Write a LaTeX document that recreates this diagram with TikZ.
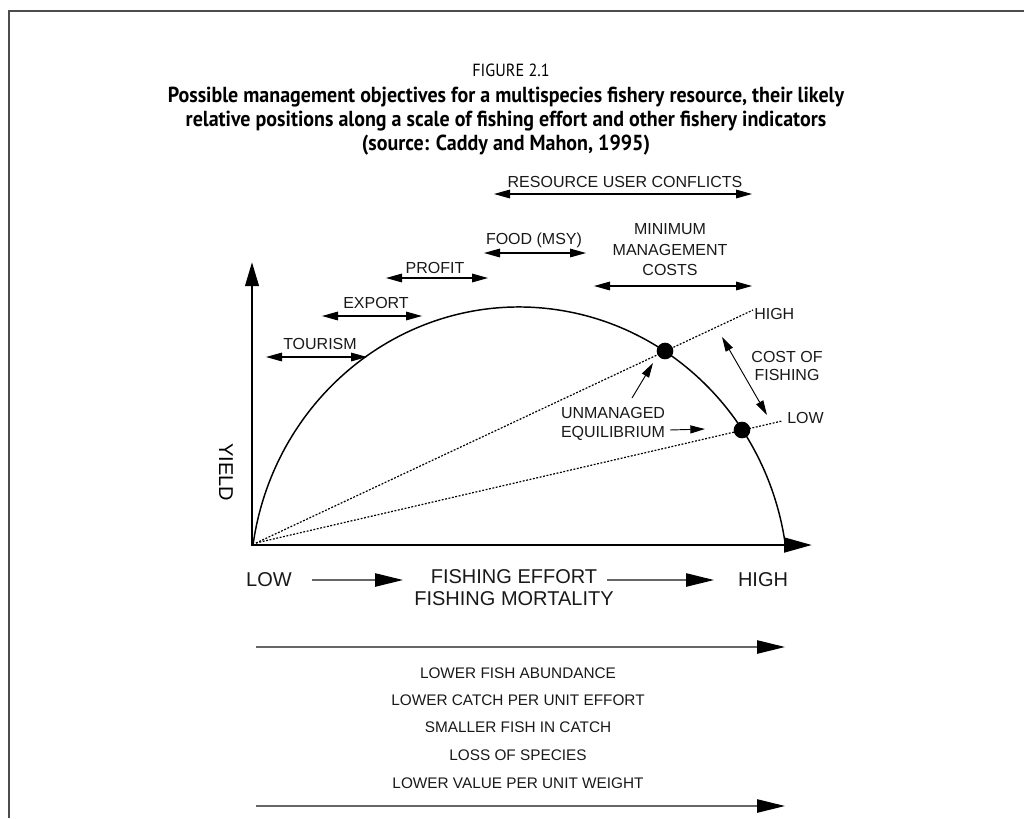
\documentclass[tikz,border=0pt]{standalone}
\usepackage{fontspec}
\setmainfont{Liberation Sans}
\newfontfamily\titlefont[FakeStretch=0.92]{PT Sans}
\usetikzlibrary{arrows.meta}
\tikzset{
  lbl/.style={font=\fontsize{12}{15}\selectfont, inner sep=0pt, align=center, text=black!90},
  biglbl/.style={font=\fontsize{15}{16.5}\selectfont, inner sep=0pt, align=center, text=black!90},
  smalllbl/.style={font=\fontsize{11.5}{13}\selectfont, inner sep=0pt, align=center, text=black!90},
  dblarrow/.style={line width=0.8pt, {Triangle[length=12pt,width=6.5pt]}-{Triangle[length=12pt,width=6.5pt]}},
  thinarrow/.style={line width=0.7pt, -{Triangle[length=11pt,width=6pt]}},
  thindbl/.style={line width=0.7pt, {Triangle[length=11pt,width=6pt]}-{Triangle[length=11pt,width=6pt]}},
  axisline/.style={line width=2.2pt, line join=miter, {Triangle[length=18pt,width=10pt]}-{Triangle[length=21pt,width=11pt]}},
  grayarrow/.style={draw=black!60, line width=1.1pt, -{Triangle[length=21pt,width=10pt,color=black]}},
  curveline/.style={line width=1.1pt},
  dottedline/.style={line width=0.9pt, dash pattern=on 1.4pt off 1.2pt},
  eqdot/.style={circle, fill=black, inner sep=0pt, minimum size=12.5pt},
  frameline/.style={draw=black!70, line width=1.5pt},
}
\begin{document}
\begin{tikzpicture}[x=0.75pt,y=-0.75pt]
\useasboundingbox (0,0) rectangle (1024,818);
% frame
\coordinate (FL) at (9,818);
\coordinate (FC) at (9,11);
\coordinate (FR) at (1024,11);
\draw[frameline] (FL) -- (FC) -- (FR);
% title
\node[font=\titlefont\fontsize{13.2}{17}\selectfont, inner sep=0pt] (fig) at (511,70) {FIGURE 2.1};
\node[font=\titlefont\bfseries\fontsize{16.3}{17.8}\selectfont, inner sep=0pt, align=center] (title) at (506,121)
  {Possible management objectives for a multispecies fishery resource, their likely\\
   relative positions along a scale of fishing effort and other fishery indicators\\
   (source: Caddy and Mahon, 1995)};
% axes
\coordinate (O) at (252,545);
\coordinate (Ytip) at (252,262);
\coordinate (Xtip) at (812,545);
\draw[axisline] (Ytip) -- (O) -- (Xtip);
\node[font=\fontsize{15}{17}\selectfont, inner sep=0pt, rotate=-90] (yield) at (226,472) {YIELD};
% curve
\coordinate (C0) at (253,545);
\draw[curveline] (C0) arc[start angle=188.27, end angle=351.73, x radius=269, y radius=278];
% dotted effort lines
\coordinate (D0) at (256,543);
\coordinate (Hend) at (753,310);
\coordinate (Lend) at (782,421);
\draw[dottedline] (D0) -- (Hend);
\draw[dottedline] (D0) -- (Lend);
\node[lbl, anchor=west] (high) at (754,314) {HIGH};
\node[lbl, anchor=west] (low) at (787,418) {LOW};
% equilibrium dots
\node[eqdot] (eqH) at (665,351) {};
\node[eqdot] (eqL) at (742,430) {};
% cost of fishing
\coordinate (C1) at (722,337);
\coordinate (C2) at (767,415);
\draw[thindbl] (C1) -- (C2);
\node[lbl, font=\fontsize{12}{13.7}\selectfont] (cost) at (787,366) {COST OF\\FISHING};
% unmanaged equilibrium
\node[lbl, font=\fontsize{12}{13.7}\selectfont] (unman) at (613,424) {UNMANAGED\\EQUILIBRIUM};
\coordinate (U1) at (632,398);
\coordinate (U2) at (653,363);
\coordinate (E1) at (670,430);
\coordinate (E2) at (705,429);
\draw[thinarrow] (U1) -- (U2);
\draw[thinarrow] (E1) -- (E2);
% objectives
\node[lbl] (conf) at (625,182) {RESOURCE USER CONFLICTS};
\coordinate (cA) at (494,194); \coordinate (cB) at (752,194);
\draw[dblarrow] (cA) -- (cB);
\node[lbl] (food) at (534,240) {FOOD (MSY)};
\coordinate (fA) at (484,253); \coordinate (fB) at (586,253);
\draw[dblarrow] (fA) -- (fB);
\node[lbl] (profit) at (435,268) {PROFIT};
\coordinate (pA) at (386,278); \coordinate (pB) at (488,278);
\draw[dblarrow] (pA) -- (pB);
\node[lbl, font=\fontsize{12}{15.4}\selectfont] (minman) at (670,250) {MINIMUM\\MANAGEMENT\\COSTS};
\coordinate (mA) at (594,286); \coordinate (mB) at (752,286);
\draw[dblarrow] (mA) -- (mB);
\node[lbl] (export) at (376,303) {EXPORT};
\coordinate (eA) at (322,316); \coordinate (eB) at (422,316);
\draw[dblarrow] (eA) -- (eB);
\node[lbl] (tour) at (320,344) {TOURISM};
\coordinate (tA) at (266,357); \coordinate (tB) at (367,357);
\draw[dblarrow] (tA) -- (tB);
% effort row
\node[biglbl] (elow) at (269,580) {LOW};
\node[biglbl] (ehigh) at (763,580) {HIGH};
\node[biglbl] (effort) at (514,588) {FISHING EFFORT\\FISHING MORTALITY};
\coordinate (a1A) at (312,580); \coordinate (a1B) at (403,580);
\coordinate (a2A) at (607,580); \coordinate (a2B) at (714,580);
\draw[grayarrow] (a1A) -- (a1B);
\draw[grayarrow] (a2A) -- (a2B);
% indicators
\coordinate (b1A) at (256,647); \coordinate (b1B) at (785,647);
\draw[grayarrow] (b1A) -- (b1B);
\node[smalllbl] (i1) at (518,673) {LOWER FISH ABUNDANCE};
\node[smalllbl] (i2) at (518,700) {LOWER CATCH PER UNIT EFFORT};
\node[smalllbl] (i3) at (518,727) {SMALLER FISH IN CATCH};
\node[smalllbl] (i4) at (518,755) {LOSS OF SPECIES};
\node[smalllbl] (i5) at (518,783) {LOWER VALUE PER UNIT WEIGHT};
\coordinate (b2A) at (256,806); \coordinate (b2B) at (785,806);
\draw[grayarrow] (b2A) -- (b2B);
\end{tikzpicture}
\end{document}
